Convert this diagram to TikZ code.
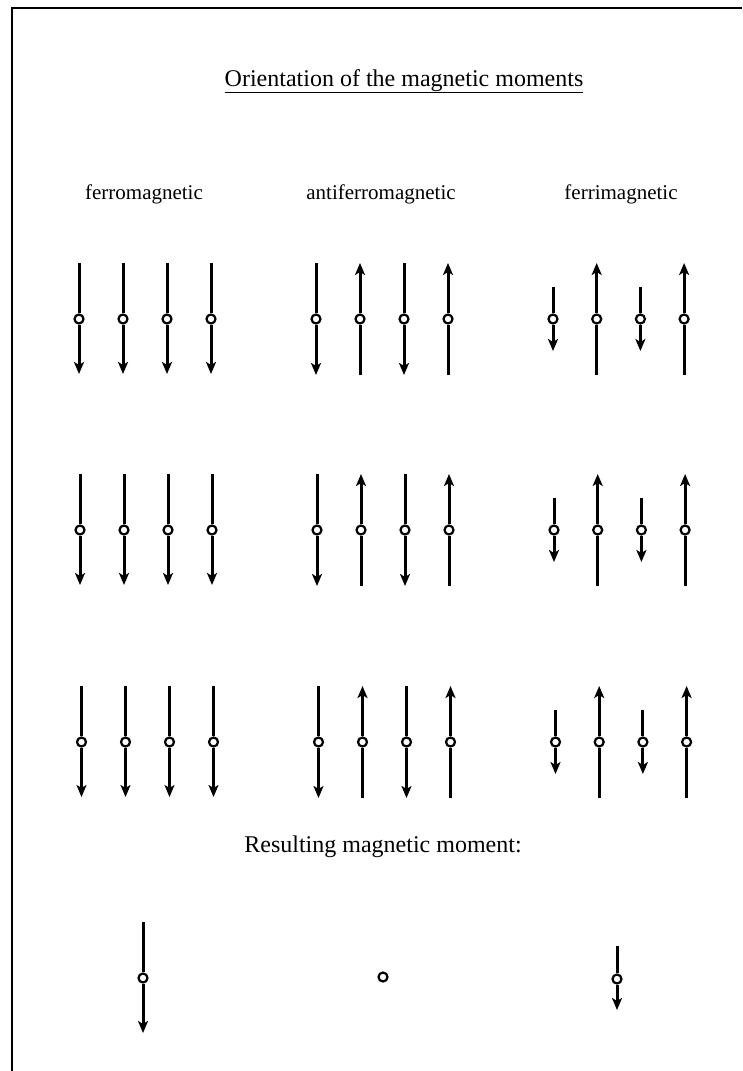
\documentclass[tikz,border=0pt]{standalone}
\usepackage{fontspec}
\setmainfont{Liberation Serif}
\usetikzlibrary{arrows.meta}

\begin{document}
\begin{tikzpicture}[x=1pt,y=-1pt,
    mom/.style={line width=3pt,>={Stealth[length=12pt,width=10pt,inset=3pt]}},
    pivot/.style={circle,draw,line width=2.2pt,fill=white,minimum size=9pt,inner sep=0pt},
    lbl/.style={font=\fontsize{21}{25}\selectfont,anchor=base}]
\useasboundingbox (0,0) rectangle (742,1071);

%% frame
\draw[line width=2.2pt] (12,1071) -- (12,8) -- (742,8);

%% headings
\node[font=\fontsize{24}{28}\selectfont,anchor=base] (title) at (404,86) {\underline{Orientation of the magnetic moments}};
\node[lbl] (ferro) at (144,199) {ferromagnetic};
\node[lbl] (antiferro) at (381,199) {antiferromagnetic};
\node[lbl] (ferri) at (621,199) {ferrimagnetic};
\node[font=\fontsize{24}{28}\selectfont,anchor=base] (result) at (383,852) {Resulting magnetic moment:};

%% three rows of moments
\foreach \r/\y/\d in {1/319/0,2/530/1,3/742/2.5}{
  %% ferromagnetic
  \foreach \i in {0,...,3}{
    \node[pivot] (fe\r\i) at ({79+\d+44*\i},\y) {};
    \coordinate (fet\r\i) at ({79+\d+44*\i},{\y-56});
    \coordinate (feh\r\i) at ({79+\d+44*\i},{\y+55});
    \draw[mom] (fet\r\i) -- (fe\r\i);
    \draw[mom,->] (fe\r\i) -- (feh\r\i);
  }
  %% antiferromagnetic
  \foreach \i/\s in {0/1,1/-1,2/1,3/-1}{
    \node[pivot] (af\r\i) at ({316+\d+44*\i},\y) {};
    \coordinate (aft\r\i) at ({316+\d+44*\i},{\y-56*\s});
    \coordinate (afh\r\i) at ({316+\d+44*\i},{\y+56*\s});
    \draw[mom] (aft\r\i) -- (af\r\i);
    \draw[mom,->] (af\r\i) -- (afh\r\i);
  }
  %% ferrimagnetic
  \foreach \i/\s/\l in {0/1/32,1/-1/56,2/1/32,3/-1/56}{
    \node[pivot] (fi\r\i) at ({553+\d+43.7*\i},\y) {};
    \coordinate (fit\r\i) at ({553+\d+43.7*\i},{\y-\l*\s});
    \coordinate (fih\r\i) at ({553+\d+43.7*\i},{\y+\l*\s});
    \draw[mom] (fit\r\i) -- (fi\r\i);
    \draw[mom,->] (fi\r\i) -- (fih\r\i);
  }
}

%% resulting moments
\node[pivot] (rfe) at (143,978) {};
\coordinate (rfet) at (143,922);
\coordinate (rfeh) at (143,1033);
\draw[mom] (rfet) -- (rfe);
\draw[mom,->] (rfe) -- (rfeh);

\node[pivot] (raf) at (383,977) {};

\node[pivot] (rfi) at (617,979) {};
\coordinate (rfit) at (617,946);
\coordinate (rfih) at (617,1010);
\draw[mom] (rfit) -- (rfi);
\draw[mom,->] (rfi) -- (rfih);

\end{tikzpicture}
\end{document}
